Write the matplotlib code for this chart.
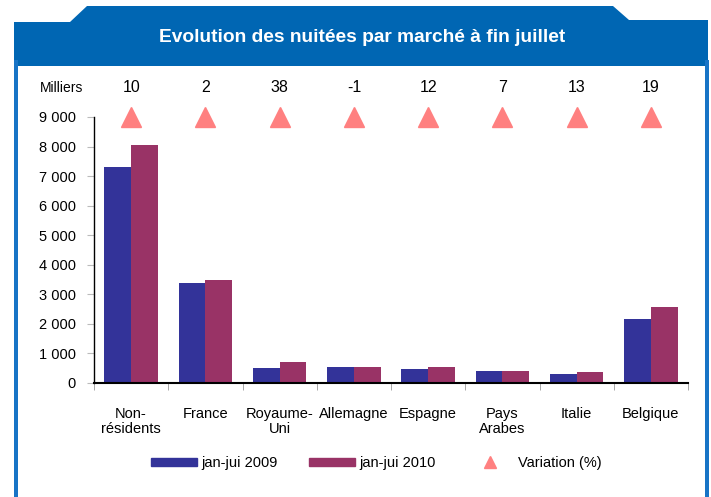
import matplotlib
matplotlib.use("Agg")
import matplotlib.pyplot as plt
from matplotlib.patches import Polygon, Rectangle
from matplotlib.lines import Line2D
import numpy as np

plt.rcParams['font.family'] = ['Liberation Sans', 'DejaVu Sans']

categories = ["Non-\nrésidents", "France", "Royaume-\nUni", "Allemagne", "Espagne",
              "Pays\nArabes", "Italie", "Belgique"]
values_2009 = [7310, 3370, 520, 530, 480, 390, 320, 2150]
values_2010 = [8060, 3480, 725, 525, 535, 415, 360, 2560]
variation = ["10", "2", "38", "-1", "12", "7", "13", "19"]
yticks = [0, 1000, 2000, 3000, 4000, 5000, 6000, 7000, 8000, 9000]
ytick_labels = ["0", "1 000", "2 000", "3 000", "4 000", "5 000", "6 000", "7 000", "8 000", "9 000"]

W, H = 711, 497
fig = plt.figure(figsize=(W / 100, H / 100), dpi=100)

def P(x, y):
    return (x / W, 1 - y / H)

header_col = "#0066B3"
pts = [P(14, 66), P(14, 22), P(70, 22), P(87, 6), P(613, 6), P(629, 20), P(708, 20), P(708, 66)]
fig.patches.append(Polygon(pts, closed=True, transform=fig.transFigure,
                           facecolor=header_col, edgecolor="none", zorder=0))
fig.patches.append(Rectangle(P(14, 497), 3.5 / W, (497 - 60) / H, transform=fig.transFigure,
                             facecolor="#1874C6", edgecolor="none", zorder=0))
fig.patches.append(Rectangle(P(705, 497), 3.5 / W, (497 - 60) / H, transform=fig.transFigure,
                             facecolor="#1874C6", edgecolor="none", zorder=0))
fig.text(362 / W, 1 - 38 / H, "Evolution des nuitées par marché à fin juillet",
         color="white", fontsize=13.8, fontweight="bold", ha="center", va="center")

ax = fig.add_axes([94 / W, 1 - 383 / H, (688 - 94) / W, (383 - 117) / H])
x = np.arange(len(categories))
bw = 0.36
ax.bar(x - bw / 2, values_2009, bw, color="#333399", label="jan-jui 2009", zorder=2)
ax.bar(x + bw / 2, values_2010, bw, color="#993366", label="jan-jui 2010", zorder=2)
ax.plot(x, [9000] * len(x), linestyle="none", marker="^", markersize=14,
        color="#FF8080", clip_on=False, zorder=3, label="Variation (%)")

ax.set_xlim(-0.5, len(categories) - 0.5)
ax.set_ylim(0, 9000)
ax.set_yticks(yticks)
ax.set_yticklabels(ytick_labels, fontsize=10.5)
ax.set_xticks(x)
ax.set_xticklabels(categories, fontsize=10.5, linespacing=1.1)
ax.tick_params(axis="x", length=0, pad=17)
ax.set_xticks(np.arange(len(categories) + 1) - 0.5, minor=True)
ax.tick_params(axis="x", which="minor", length=5, color="#999999", direction="out")
ax.tick_params(axis="y", length=5, color="#bbbbbb", pad=8, direction="out")
for s in ["top", "right"]:
    ax.spines[s].set_visible(False)
ax.spines["left"].set_linewidth(1.0)
ax.spines["bottom"].set_linewidth(1.5)

ytxt = 1 - 88 / H
fig.text(62 / W, ytxt, "Milliers", fontsize=10, ha="center", va="center")
for i, v in enumerate(variation):
    xc = ax.transData.transform((i, 0))[0] / W
    fig.text(xc, ytxt, v, fontsize=11.5, ha="center", va="center")

handles = [Rectangle((0, 0), 1, 1, color="#333399"), Rectangle((0, 0), 1, 1, color="#993366"),
           Line2D([], [], linestyle="none", marker="^", markersize=9, color="#FF8080")]
fig.legend(handles, ["jan-jui 2009", "jan-jui 2010", "Variation (%)"], loc="center",
           bbox_to_anchor=(376 / W, 1 - 463 / H), ncol=3, frameon=False, fontsize=10.5,
           handlelength=3.2, handleheight=0.5, columnspacing=2.1, handletextpad=0.3)

fig.savefig("out.png", dpi=100)
